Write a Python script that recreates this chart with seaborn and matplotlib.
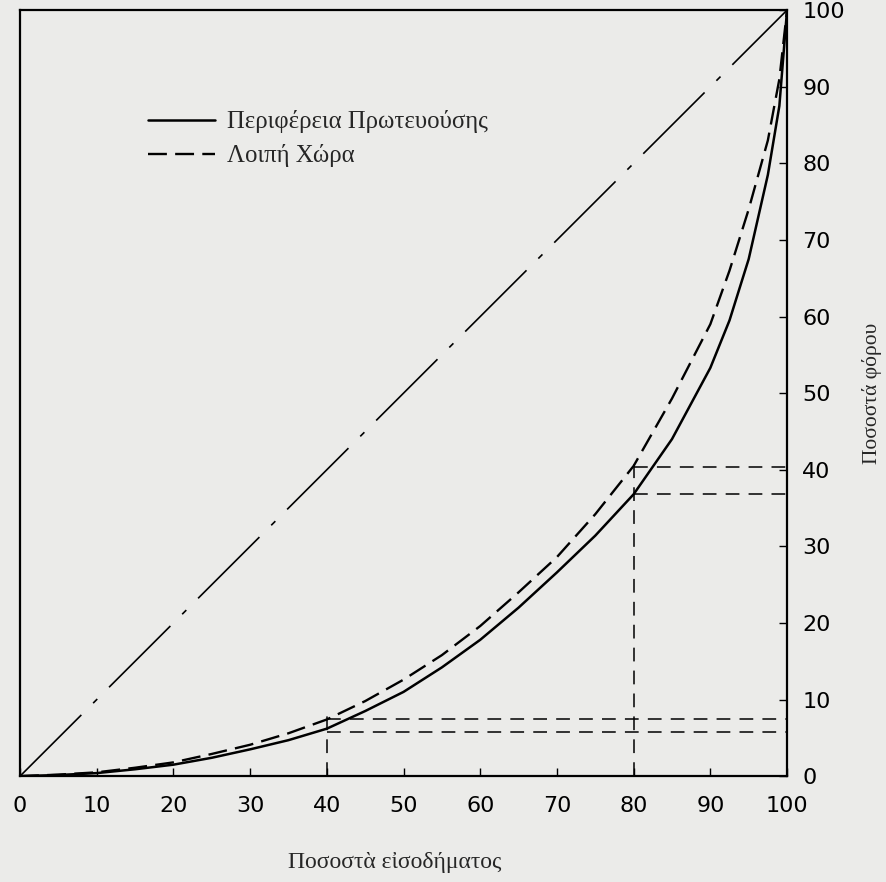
import numpy as np
import pandas as pd
import matplotlib
matplotlib.use("Agg")
import matplotlib.pyplot as plt
import seaborn as sns

# cumulative % of income (x) vs cumulative % of tax (y)
income_pct = [0, 5, 10, 15, 20, 25, 30, 35, 40, 45, 50, 55, 60, 65, 70, 75,
              80, 85, 90, 92.5, 95, 97.5, 99, 100]
capital_tax = [0, 0.15, 0.4, 0.9, 1.5, 2.4, 3.5, 4.7, 6.2, 8.5, 11.0, 14.2,
               17.8, 22.0, 26.6, 31.4, 36.8, 44.0, 53.3, 59.5, 67.5, 78.5,
               87.5, 100]
rest_tax = [0, 0.2, 0.5, 1.1, 1.8, 2.9, 4.1, 5.6, 7.4, 9.8, 12.6, 15.8,
            19.6, 24.0, 28.6, 34.2, 40.5, 49.3, 59.0, 66.0, 74.0, 83.0,
            91.0, 100]

# reading guides drawn at 40% and 80% of income
guide_x = [40, 80]
guide_capital = [5.8, 36.8]
guide_rest = [7.4, 40.3]

equality = [0, 100]

capital_label = "Περιφέρεια Πρωτευούσης"
rest_label = "Λοιπή Χώρα"
x_label = "Ποσοστὰ εἰσοδήματος"
y_label = "Ποσοστά φόρου"

paper = "#ebebe9"
sns.set_theme(style="white")
plt.rcParams["font.family"] = ["DejaVu Sans"]

fig = plt.figure(figsize=(8.86, 8.82), dpi=100, facecolor=paper)
ax = fig.add_axes([0.0226, 0.12, 0.8657, 0.8685])
ax.set_facecolor(paper)

df = pd.DataFrame({"x": income_pct, "capital": capital_tax, "rest": rest_tax})

# line of equal distribution, dash-dot
sns.lineplot(x=equality, y=equality, ax=ax, color="black", linewidth=1.2)
ax.lines[-1].set_dashes((52, 10, 3.5, 10))

sns.lineplot(data=df, x="x", y="capital", ax=ax, color="black",
             linewidth=1.8, label=capital_label)
sns.lineplot(data=df, x="x", y="rest", ax=ax, color="black",
             linewidth=1.7, label=rest_label)
ax.lines[-1].set_dashes((8, 3.5))

for gx, gc, gr in zip(guide_x, guide_capital, guide_rest):
    ax.vlines(gx, 0, gr + 0.6, colors="black", linewidth=1.1,
              linestyles=(0, (9, 6)))
    ax.hlines([gc, gr], gx, 100, colors="black", linewidth=1.1,
              linestyles=(0, (9, 6)))

ax.set_xlim(0, 100)
ax.set_ylim(0, 100)
ax.set_xticks(np.arange(0, 101, 10))
ax.set_yticks(np.arange(0, 101, 10))
ax.yaxis.tick_right()
ax.yaxis.set_label_position("right")
ax.tick_params(axis="x", direction="in", length=6, width=1, pad=14,
               labelsize=16, colors="black", bottom=True)
ax.tick_params(axis="y", direction="in", length=6, width=1, pad=11,
               labelsize=16, colors="black", right=True, left=False)

for s in ax.spines.values():
    s.set_visible(True)
    s.set_color("black")
    s.set_linewidth(1.6)

ax.set_xlabel(x_label, family="Liberation Serif", fontsize=17)
ax.xaxis.set_label_coords(0.489, -0.099)
ax.set_ylabel(y_label, family="Liberation Serif", fontsize=15.5, labelpad=12)

leg = ax.legend(loc="center left", bbox_to_anchor=(0.167, 0.832),
                frameon=False, borderaxespad=0, borderpad=0,
                handlelength=2.7, handletextpad=0.5, labelspacing=0.45,
                prop={"family": "Liberation Serif", "size": 17.8})

fig.savefig("out.png", dpi=100, facecolor=paper)
